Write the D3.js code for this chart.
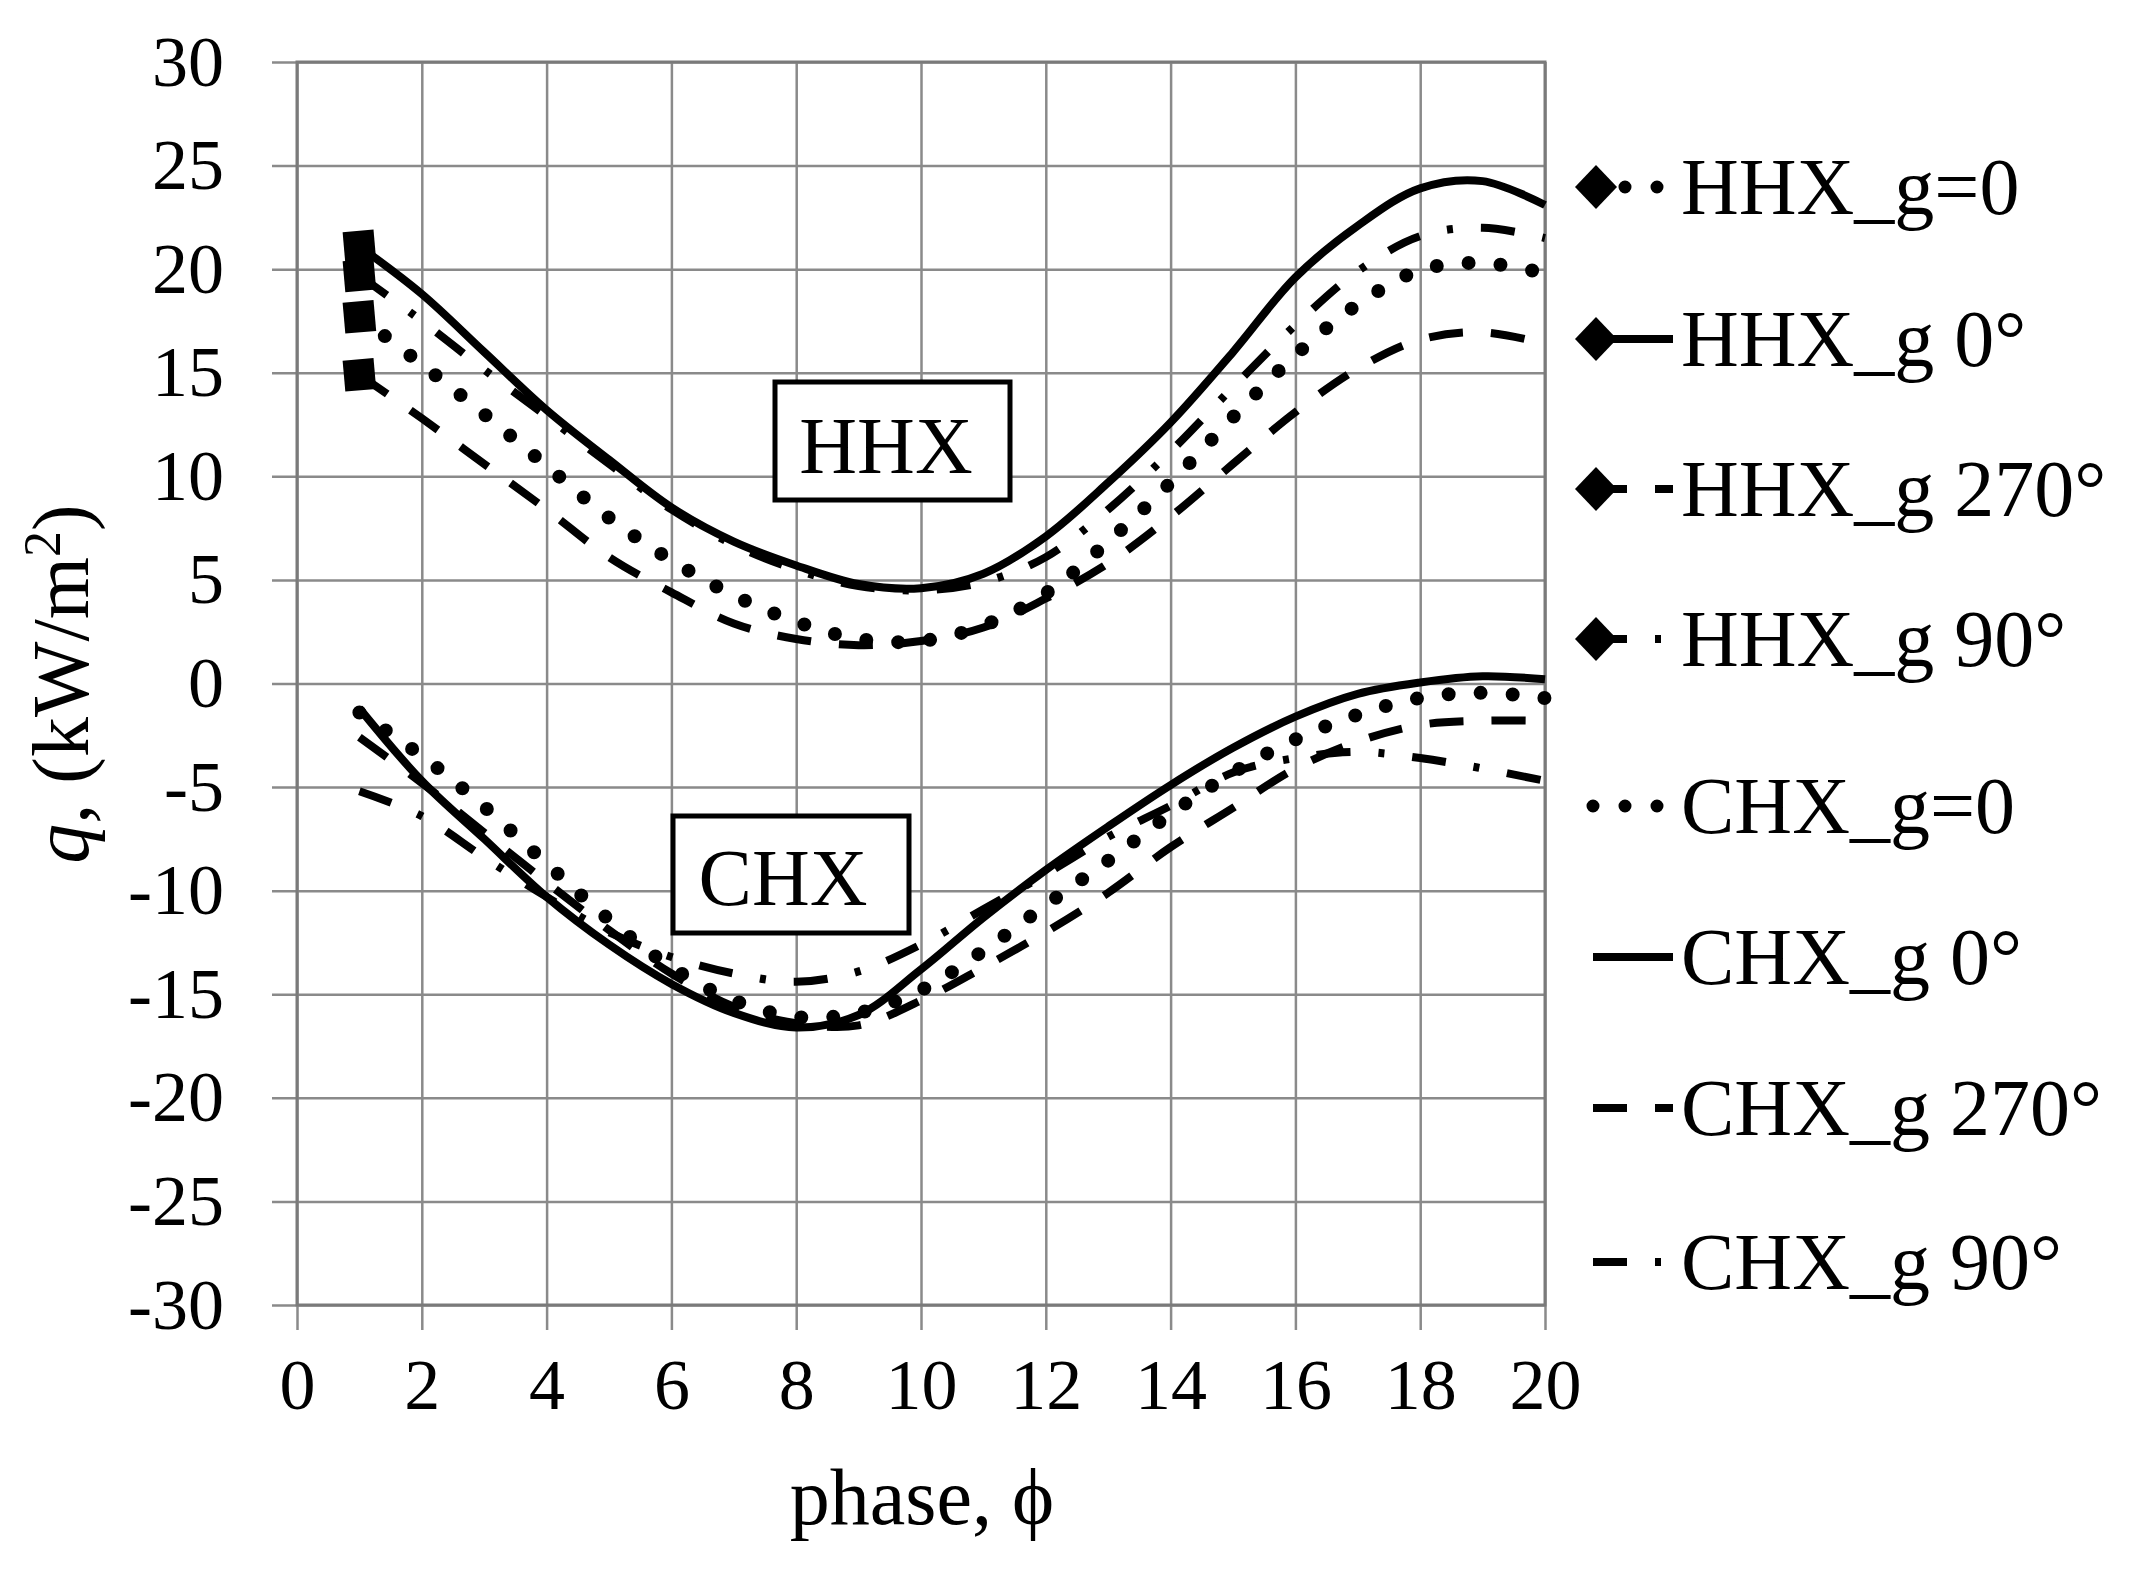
<!DOCTYPE html>
<html>
<head>
<meta charset="utf-8">
<script src="https://cdn.jsdelivr.net/npm/d3@7"></script>
<style>
  html, body { margin: 0; padding: 0; background: #fff; }
  svg { display: block; }
  text { font-family: "Liberation Serif", "Times New Roman", serif; fill: #000; }
</style>
</head>
<body>
<div id="chart"></div>
<script>
// ---------------- data ----------------
const phase = [1,2,3,4,5,6,7,8,9,10,11,12,13,14,15,16,17,18,19,20];

const hhx_g0   = [17.7,15.4,13.0,10.5,8.0,5.95,4.25,2.98,2.15,2.05,2.8,4.35,6.85,9.7,12.85,15.85,18.3,19.95,20.3,19.8];
const hhx_g0d  = [21.1,18.8,16.0,13.2,10.8,8.5,6.85,5.7,4.8,4.6,5.3,7.1,9.7,12.6,16.0,19.6,22.1,23.9,24.25,23.1];
const hhx_g270 = [14.9,12.8,10.6,8.4,6.1,4.4,2.9,2.15,1.85,2.05,2.7,4.1,5.8,8.05,10.6,13.1,15.2,16.6,16.95,16.4];
const hhx_g90  = [19.7,17.5,15.15,12.9,10.6,8.4,6.7,5.5,4.7,4.5,4.9,6.1,8.4,11.2,14.3,17.3,19.9,21.6,22.0,21.5];

const chx_g0   = [-1.4,-3.5,-5.95,-8.7,-11.4,-13.7,-15.3,-16.1,-15.9,-14.8,-12.9,-10.7,-8.55,-6.3,-4.3,-2.7,-1.5,-0.7,-0.45,-0.7];
const chx_g0d  = [-1.2,-4.7,-7.5,-10.3,-12.6,-14.5,-15.9,-16.6,-16.0,-13.8,-11.3,-9.0,-6.9,-4.9,-3.1,-1.6,-0.5,0.05,0.35,0.2];
const chx_g270 = [-2.6,-4.8,-7.2,-9.6,-11.9,-14.0,-15.6,-16.4,-16.5,-15.3,-13.7,-12.0,-10.1,-7.9,-6.0,-4.1,-2.8,-2.0,-1.8,-1.8];
const chx_g90  = [-5.2,-6.4,-8.4,-10.3,-12.0,-13.2,-14.0,-14.4,-13.9,-12.6,-10.9,-9.2,-7.4,-5.9,-4.3,-3.6,-3.3,-3.6,-4.1,-4.7];

const seriesNames = ["HHX_g=0","HHX_g 0°","HHX_g 270°","HHX_g 90°","CHX_g=0","CHX_g 0°","CHX_g 270°","CHX_g 90°"];
const seriesValues = [hhx_g0, hhx_g0d, hhx_g270, hhx_g90, chx_g0, chx_g0d, chx_g270, chx_g90];
const seriesStyle = ["dotted","solid","dashed","dashdot","dotted","solid","dashed","dashdot"];
const seriesMarker = [true,true,true,true,false,false,false,false];

const xTicks = [0,2,4,6,8,10,12,14,16,18,20];
const yTicks = [-30,-25,-20,-15,-10,-5,0,5,10,15,20,25,30];
const xTitle = "phase, ϕ";
const boxLabels = ["HHX","CHX"];

// ---------------- layout ----------------
const W = 2132, H = 1588;
const X0 = 297, X1 = 1545, YT = 62, YB = 1305;
const TICK = 25;

const styles = {
  solid:   { dash: null, w: 8, cap: "butt" },
  dotted:  { dash: "0 32", w: 14, cap: "round" },
  dashed:  { dash: "34 28", w: 8, cap: "butt" },
  dashdot: { dash: "34 28 6 28", w: 8, cap: "butt" }
};

const svg = d3.select("#chart").append("svg")
  .attr("width", W).attr("height", H)
  .attr("viewBox", `0 0 ${W} ${H}`);
svg.append("rect").attr("width", W).attr("height", H).attr("fill", "#fff");

const x = d3.scaleLinear().domain([0, 20]).range([X0, X1]);
const y = d3.scaleLinear().domain([-30, 30]).range([YB, YT]);

const gridColor = "#8a8a8a";

// y axis with gridlines (extending TICK px outward)
const gy = svg.append("g").attr("transform", `translate(${X0 - TICK},0)`)
  .call(d3.axisLeft(y).tickValues(yTicks).tickFormat(d => String(d))
        .tickSize(-(X1 - X0 + TICK)).tickSizeOuter(0).tickPadding(48));
gy.select(".domain").remove();
gy.selectAll(".tick line").attr("stroke", gridColor).attr("stroke-width", 2.5);
gy.selectAll(".tick text").attr("font-size", 72)
  .attr("font-family", '"Liberation Serif", "Times New Roman", serif').attr("fill", "#000");

// x axis with gridlines
const gx = svg.append("g").attr("transform", `translate(0,${YB + TICK})`)
  .call(d3.axisBottom(x).tickValues(xTicks).tickFormat(d => String(d))
        .tickSize(-(YB - YT + TICK)).tickSizeOuter(0).tickPadding(28));
gx.select(".domain").remove();
gx.selectAll(".tick line").attr("stroke", gridColor).attr("stroke-width", 2.5);
gx.selectAll(".tick text").attr("font-size", 72)
  .attr("font-family", '"Liberation Serif", "Times New Roman", serif').attr("fill", "#000");

// plot border
svg.append("rect").attr("x", X0).attr("y", YT).attr("width", X1 - X0).attr("height", YB - YT)
  .attr("fill", "none").attr("stroke", "#7a7a7a").attr("stroke-width", 3);

// series
const line = d3.line().x(d => x(d[0])).y(d => y(d[1])).curve(d3.curveCatmullRom.alpha(0.5));
const drawOrder = [4,6,7,5,0,2,3,1];
drawOrder.forEach(i => {
  const st = styles[seriesStyle[i]];
  const pts = phase.map((p, k) => [p, seriesValues[i][k]]);
  const path = svg.append("path").datum(pts)
    .attr("d", line).attr("fill", "none").attr("stroke", "#000")
    .attr("stroke-width", st.w).attr("stroke-linecap", st.cap).attr("stroke-linejoin", "round");
  if (st.dash) path.attr("stroke-dasharray", st.dash);
});
// first-point markers for HHX series
seriesValues.forEach((vals, i) => {
  if (!seriesMarker[i]) return;
  svg.append("path")
    .attr("d", d3.symbol().type(d3.symbolSquare).size(961)())
    .attr("transform", `translate(${x(phase[0])},${y(vals[0])}) rotate(-5)`)
    .attr("fill", "#000");
});

// text boxes
const boxes = [
  { label: boxLabels[0], x: 775, y: 382, w: 235, h: 118, tx: 886, ty: 473 },
  { label: boxLabels[1], x: 673, y: 816, w: 236, h: 117, tx: 783, ty: 905 }
];
boxes.forEach(b => {
  svg.append("rect").attr("x", b.x).attr("y", b.y).attr("width", b.w).attr("height", b.h)
    .attr("fill", "#fff").attr("stroke", "#000").attr("stroke-width", 5);
  svg.append("text").attr("x", b.tx).attr("y", b.ty).attr("text-anchor", "middle")
    .attr("font-size", 80).text(b.label);
});

// legend
const legendY = [187, 339, 489, 639, 806, 957, 1108, 1262];
const LX0 = 1593, LX1 = 1673, LTX = 1681;
seriesNames.forEach((name, i) => {
  const cy = legendY[i];
  const st = styles[seriesStyle[i]];
  const lw = seriesStyle[i] === "dotted" ? 13 : st.w;
  const p = svg.append("line").attr("x1", LX0).attr("x2", LX1).attr("y1", cy).attr("y2", cy)
    .attr("stroke", "#000").attr("stroke-width", lw).attr("stroke-linecap", st.cap);
  if (st.dash) p.attr("stroke-dasharray", st.dash);
  if (seriesMarker[i]) {
    const cx = 1596, hw = 21, hh = 22;
    svg.append("path")
      .attr("d", `M${cx},${cy - hh}L${cx + hw},${cy}L${cx},${cy + hh}L${cx - hw},${cy}Z`)
      .attr("fill", "#000");
  }
  svg.append("text").attr("x", LTX).attr("y", cy + 26.5).attr("font-size", 80).text(name);
});

// axis titles
svg.append("text").attr("x", 922).attr("y", 1524).attr("text-anchor", "middle")
  .attr("font-size", 80).text(xTitle);

const yt = svg.append("text").attr("transform", "translate(88,684) rotate(-90)")
  .attr("text-anchor", "middle").attr("font-size", 80);
yt.append("tspan").attr("font-style", "italic").text("q");
yt.append("tspan").text(", (kW/m");
yt.append("tspan").attr("font-size", 52).attr("dy", -28).text("2");
yt.append("tspan").attr("dy", 28).text(")");
</script>
</body>
</html>
